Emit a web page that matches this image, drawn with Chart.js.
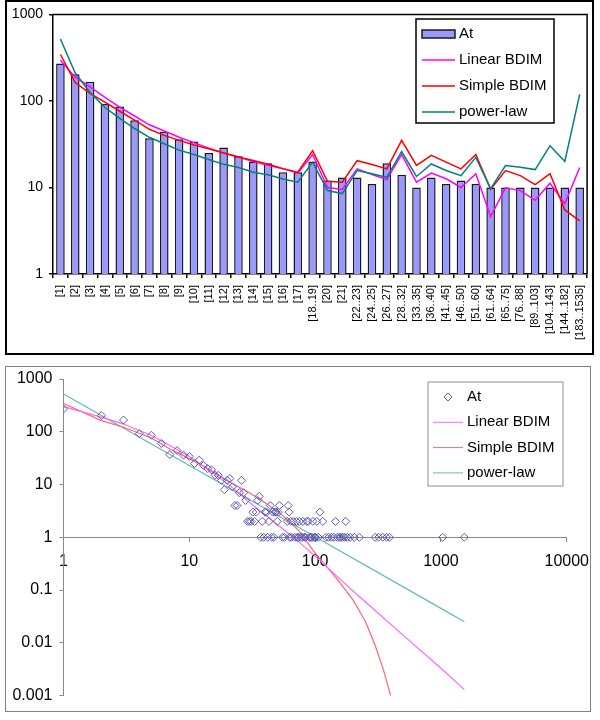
<!DOCTYPE html>
<html><head><meta charset="utf-8">
<script src="https://cdn.jsdelivr.net/npm/chart.js@4.4.1/dist/chart.umd.min.js"></script>
<style>
html,body{margin:0;padding:0;background:#fff;}
body{width:600px;height:720px;position:relative;overflow:hidden;font-family:"Liberation Sans",Arial,sans-serif;}
#w1{position:absolute;left:0;top:0;width:600px;height:358px;}
#w2{position:absolute;left:0;top:360px;width:600px;height:360px;}
.frame{position:absolute;box-sizing:border-box;pointer-events:none;}
#f1{left:5px;top:0;width:589px;height:355px;border:2px solid #000;}
#f2{left:5px;top:366px;width:586px;height:346px;border:1px solid #808080;}
</style></head>
<body>
<div id="w1"><canvas id="c1"></canvas></div>
<div id="w2"><canvas id="c2"></canvas></div>
<div class="frame" id="f1"></div>
<div class="frame" id="f2"></div>
<script>
// ---------- top chart data (binned) ----------
const categories = ['[1]','[2]','[3]','[4]','[5]','[6]','[7]','[8]','[9]','[10]','[11]','[12]','[13]','[14]','[15]','[16]','[17]','[18..19]','[20]','[21]','[22..23]','[24..25]','[26..27]','[28..32]','[33..35]','[36..40]','[41..45]','[46..50]','[51..60]','[61..64]','[65..75]','[76..88]','[89..103]','[104..143]','[144..182]','[183..1535]'];
const atBins = [271,203,167,92,86,60,37,44,36,34,25,29,23,20,19,15,15,20,12,13,13,11,19,14,10,13,11,12,11,10,10,10,10,10,10,10];
const linearBins = [295,188,145,110,85,67,53,45,38,33,28.5,25,22.5,20,18,16.5,14.6,24,10,9.5,16.4,14.1,12.3,24,11.5,14.7,12.6,10,14.4,4.6,9.9,9.2,7.1,11.2,6.5,17];
const simpleBins = [344,163,122,97,76,60,47,40,35,31,28,25,22.5,20.5,18.5,16.5,15,26.6,11.8,11.5,20.4,18.4,16.4,35,18,23.5,19.6,16.4,24,9.5,15.7,13.7,10.8,14.4,5.5,4.1];
const powerBins = [520,210,125,84,63,48,38,32,27,24,21,18.5,17,15,14,12.5,11.5,19.6,9.2,8.5,15.7,14.4,13.1,26,13.4,18.7,15.7,13.7,22.3,9.7,17.9,17.1,16.1,30.4,20,119];
const topYTicks = [1,10,100,1000];

// ---------- bottom chart data (log-log) ----------
const atDegree = [1,2,3,4,5,6,7,8,9,10,11,12,13,14,15,16,17,18,19,20,21,22,23,24,25,26,27,28,29,30,31,32,33,34,35,36,37,38,39,40,41,42,43,44,45,46,47,48,49,50,51,52,55,57,60,61,62,63,64,65,67,69,71,72,74,75,77,79,80,82,84,86,88,90,92,94,96,98,100,101,103,106,109,115,122,128,135,141,145,150,156,160,166,172,175,180,190,205,225,300,320,345,370,390,1033,1535];
const atCount  = [271,203,167,92,86,60,37,44,36,34,25,29,23,20,19,15,15,12,8,12,13,9,4,4,7,12,7,5,2,2,2,3,2,3,5,6,1,2,1,3,3,1,2,4,1,3,1,3,3,2,3,4,1,1,2,4,3,1,2,1,2,1,2,1,1,2,1,1,2,1,1,2,2,1,1,1,2,1,1,1,2,1,3,2,1,1,1,1,2,1,1,1,1,1,2,1,1,1,1,1,1,1,1,1,1,1];
const linearX = [1,2,3,5,7,10,15,20,30,50,75,100,150,200,300,500,1000,1535];
const linearY = [300,190,140,85,55,34,17.5,10.5,4.6,1.75,0.8,0.44,0.18,0.096,0.041,0.014,0.0033,0.0013];
const simpleX = [1,2,3,5,7,10,15,20,30,40,50,60,75,100,125,150,200,250,300,350,403];
const simpleY = [344,163,122,76,47,31,18.5,11.8,7,4.5,3.1,2.2,1.3,0.5,0.27,0.16,0.065,0.026,0.009,0.003,0.0009];
const powerX = [1,10,100,1000,1535];
const powerY = [520,23,1.02,0.045,0.025];
const botXTicks = [1,10,100,1000,10000];
const botYTicks = [0.001,0.01,0.1,1,10,100,1000];

const FONT = '"Liberation Sans", Arial, sans-serif';
Chart.defaults.font.family = FONT;
Chart.defaults.color = '#000';

const toPts = (xs, ys) => xs.map((x, i) => ({x: x, y: ys[i]}));
const fmt = v => String(v);

const boxLegend = {
  id: 'boxLegend',
  afterDraw(chart, args, o) {
    const ctx = chart.ctx;
    ctx.save();
    ctx.fillStyle = '#fff';
    ctx.fillRect(o.x, o.y, o.w, o.h);
    ctx.strokeStyle = o.border; ctx.lineWidth = o.borderWidth;
    ctx.strokeRect(o.x, o.y, o.w, o.h);
    ctx.font = o.font; ctx.textBaseline = 'middle'; ctx.textAlign = 'left';
    chart.data.datasets.forEach((ds, i) => {
      const cy = o.y + o.firstRow + i * o.rowH;
      const kind = ds.type || chart.config.type;
      if (kind === 'bar') {
        ctx.fillStyle = ds.backgroundColor; ctx.fillRect(o.sx0, cy - 4, o.sx1 - o.sx0, 8);
        ctx.strokeStyle = ds.borderColor; ctx.lineWidth = 1.5; ctx.strokeRect(o.sx0, cy - 4, o.sx1 - o.sx0, 8);
      } else if (ds.showLine === false) {
        const cx = (o.sx0 + o.sx1) / 2, r = ds.pointRadius;
        ctx.strokeStyle = ds.pointBorderColor || ds.borderColor; ctx.lineWidth = 1;
        ctx.beginPath(); ctx.moveTo(cx, cy - r); ctx.lineTo(cx + r, cy); ctx.lineTo(cx, cy + r); ctx.lineTo(cx - r, cy); ctx.closePath(); ctx.stroke();
      } else {
        ctx.strokeStyle = ds.borderColor; ctx.lineWidth = o.lineW;
        ctx.beginPath(); ctx.moveTo(o.sx0, cy); ctx.lineTo(o.sx1, cy); ctx.stroke();
      }
      ctx.fillStyle = '#000';
      ctx.fillText(ds.label, o.textX, cy);
    });
    ctx.restore();
  }
};
const plotBorder = {
  id: 'plotBorder',
  afterDatasetsDraw(chart, args, o) {
    if (!o.draw) return;
    const {ctx, chartArea: a} = chart;
    ctx.save(); ctx.strokeStyle = '#000'; ctx.lineWidth = 1.5;
    ctx.beginPath(); ctx.moveTo(a.left, a.top); ctx.lineTo(a.right, a.top); ctx.lineTo(a.right, a.bottom); ctx.stroke();
    ctx.restore();
  }
};

// ---------- top chart ----------
new Chart(document.getElementById('c1'), {
  type: 'bar',
  data: {
    labels: categories,
    datasets: [
      {type: 'bar', label: 'At', data: atBins, backgroundColor: '#9999ff', borderColor: '#1a1a1a', borderWidth: 1.5, barPercentage: 0.58, categoryPercentage: 1, order: 10},
      {type: 'line', label: 'Linear BDIM', data: linearBins, borderColor: '#ff00ff', borderWidth: 1.5, pointRadius: 0, tension: 0, fill: false, order: 2},
      {type: 'line', label: 'Simple BDIM', data: simpleBins, borderColor: '#ff0000', borderWidth: 1.5, pointRadius: 0, tension: 0, fill: false, order: 1},
      {type: 'line', label: 'power-law', data: powerBins, borderColor: '#008080', borderWidth: 1.5, pointRadius: 0, tension: 0, fill: false, order: 0}
    ]
  },
  options: {
    responsive: true, maintainAspectRatio: false, animation: false, devicePixelRatio: 1, events: [],
    layout: {padding: {top: 13, right: 9, left: 0, bottom: 0}},
    scales: {
      x: {
        grid: {display: true, drawOnChartArea: false, drawTicks: true, tickLength: 4, color: '#000', lineWidth: 1.5, offset: true},
        border: {display: true, color: '#000', width: 1.5},
        ticks: {autoSkip: false, minRotation: 90, maxRotation: 90, padding: 7, font: {size: 11}, color: '#000'},
        afterFit: s => { s.height = 84; }
      },
      y: {
        type: 'logarithmic', min: 1, max: 1000,
        grid: {display: true, drawOnChartArea: false, drawTicks: true, tickLength: 4, color: '#000', lineWidth: 1.5},
        border: {display: true, color: '#000', width: 1.5},
        ticks: {font: {size: 14}, padding: 6, color: '#000', callback: fmt},
        afterBuildTicks: s => { s.ticks = topYTicks.map(v => ({value: v})); },
        afterFit: s => { s.width = 53; }
      }
    },
    plugins: {
      legend: {display: false}, tooltip: {enabled: false},
      plotBorder: {draw: true},
      boxLegend: {x: 416, y: 19, w: 138, h: 104, firstRow: 15, rowH: 26, sx0: 422, sx1: 455, textX: 459,
        font: '15px ' + FONT, border: '#000', borderWidth: 1.5, lineW: 1.5}
    }
  },
  plugins: [plotBorder, boxLegend]
});

// ---------- bottom chart ----------
new Chart(document.getElementById('c2'), {
  type: 'scatter',
  data: {
    datasets: [
      {label: 'At', data: toPts(atDegree, atCount), showLine: false, pointStyle: 'rectRot', pointRadius: 4,
        borderColor: '#5a5ab4', pointBorderColor: '#5a5ab4', backgroundColor: 'rgba(0,0,0,0)', pointBorderWidth: 1, order: 0},
      {label: 'Linear BDIM', data: toPts(linearX, linearY), showLine: true, borderColor: '#ff66ff', borderWidth: 1.2, pointRadius: 0, tension: 0, order: 1},
      {label: 'Simple BDIM', data: toPts(simpleX, simpleY), showLine: true, borderColor: '#ff6670', borderWidth: 1.2, pointRadius: 0, tension: 0, order: 2},
      {label: 'power-law', data: toPts(powerX, powerY), showLine: true, borderColor: '#66b8b8', borderWidth: 1.2, pointRadius: 0, tension: 0, order: 3}
    ]
  },
  options: {
    responsive: true, maintainAspectRatio: false, animation: false, devicePixelRatio: 1, events: [],
    layout: {padding: {top: 19, right: 32.5, left: 0, bottom: 24.4}},
    scales: {
      x: {
        type: 'logarithmic', min: 1, max: 10000, position: {y: 1},
        grid: {display: true, drawOnChartArea: false, drawTicks: true, tickLength: 4, color: '#888'},
        border: {display: true, color: '#888', width: 1},
        ticks: {font: {size: 16}, padding: 11, color: '#000', callback: fmt, maxRotation: 0},
        afterBuildTicks: s => { s.ticks = botXTicks.map(v => ({value: v})); }
      },
      y: {
        type: 'logarithmic', min: 0.001, max: 1000,
        grid: {display: true, drawOnChartArea: false, drawTicks: true, tickLength: 4, color: '#888'},
        border: {display: true, color: '#888', width: 1},
        ticks: {font: {size: 16}, padding: 7, color: '#000', callback: fmt},
        afterBuildTicks: s => { s.ticks = botYTicks.map(v => ({value: v})); },
        afterFit: s => { s.width = 63.5; }
      }
    },
    plugins: {
      legend: {display: false}, tooltip: {enabled: false},
      plotBorder: {draw: false},
      boxLegend: {x: 428, y: 22, w: 135, h: 104, firstRow: 15, rowH: 25.3, sx0: 433, sx1: 463, textX: 467,
        font: '15px ' + FONT, border: '#909090', borderWidth: 1, lineW: 1}
    }
  },
  plugins: [plotBorder, boxLegend]
});
</script>
</body></html>
